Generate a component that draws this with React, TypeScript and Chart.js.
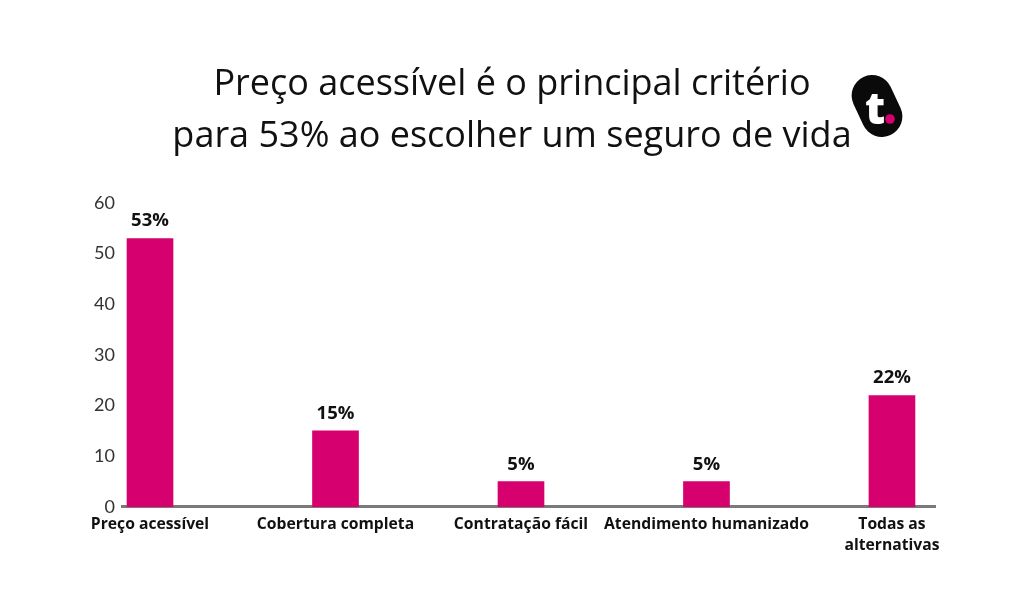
import React, { useEffect, useRef } from "react";
import { Chart, registerables } from "chart.js";

Chart.register(...registerables);

const titleLines = [
  "Preço acessível é o principal critério",
  "para 53% ao escolher um seguro de vida",
];
const categories: (string | string[])[] = [
  "Preço acessível",
  "Cobertura completa",
  "Contratação fácil",
  "Atendimento humanizado",
  ["Todas as", "alternativas"],
];
const values = [53, 15, 5, 5, 22];
const yTicks = [0, 10, 20, 30, 40, 50, 60];

const BAR_COLOR = "#d6006e";

const dataLabelPlugin = {
  id: "dataLabels",
  afterDatasetsDraw(chart: any) {
    const ctx = chart.ctx;
    const meta = chart.getDatasetMeta(0);
    ctx.save();
    ctx.font = "700 18.5px 'Open Sans'";
    ctx.fillStyle = "#111111";
    ctx.textAlign = "center";
    ctx.textBaseline = "alphabetic";
    meta.data.forEach((bar: any, i: number) => {
      ctx.fillText(values[i] + "%", bar.x, bar.y - 12);
    });
    ctx.restore();
  },
};

export default function App() {
  const canvasRef = useRef<HTMLCanvasElement | null>(null);

  useEffect(() => {
    let chart: Chart | null = null;
    let cancelled = false;
    const make = () => {
      if (cancelled || !canvasRef.current) return;
      chart = new Chart(canvasRef.current, {
        type: "bar",
        data: {
          datasets: [
            {
              data: values.map((v, i) => ({ x: i, y: v })),
              backgroundColor: BAR_COLOR,
              barThickness: 46,
              borderWidth: 0,
            },
          ],
        },
        options: {
          responsive: false,
          animation: false,
          layout: { padding: { left: 0, right: 89, top: 203, bottom: 51 } },
          plugins: {
            legend: { display: false },
            tooltip: { enabled: false },
            title: { display: false },
          },
          scales: {
            x: {
              type: "linear",
              offset: false,
              min: -0.151,
              max: 4.232,
              grid: { display: true, offset: false, color: "rgba(0,0,0,0)", drawTicks: false },
              border: { display: true, color: "#7a7a7a", width: 3 },
              afterBuildTicks: (scale: any) => {
                scale.ticks = categories.map((_, i) => ({ value: i }));
              },
              ticks: {
                autoSkip: false,
                maxRotation: 0,
                minRotation: 0,
                padding: 7,
                color: "#111111",
                font: { family: "'Open Sans'", size: 15.7, weight: "700", lineHeight: 1.34 },
                callback: (v: any) => categories[v as number] ?? "",
              },
            },
            y: {
              min: 0,
              max: 60,
              grid: { display: false, drawTicks: false },
              border: { display: false },
              afterBuildTicks: (scale: any) => {
                scale.ticks = yTicks.map((v) => ({ value: v }));
              },
              afterFit: (scale: any) => {
                scale.width = 122;
              },
              ticks: {
                padding: 7,
                color: "#333333",
                font: { family: "Lato", size: 18, weight: "400" },
              },
            },
          },
        },
        plugins: [dataLabelPlugin],
      } as any);
    };
    const fonts = [
      "400 36px 'Open Sans'",
      "700 18px 'Open Sans'",
      "700 15px 'Open Sans'",
      "400 18px Lato",
    ];
    Promise.all(fonts.map((f) => (document as any).fonts.load(f)))
      .catch(() => null)
      .then(make);
    return () => {
      cancelled = true;
      if (chart) chart.destroy();
    };
  }, []);

  return (
    <div
      style={{
        position: "absolute",
        left: 0,
        top: 0,
        width: 1024,
        height: 614,
        background: "#ffffff",
        overflow: "hidden",
      }}
    >
      <canvas ref={canvasRef} width={1024} height={614} style={{ display: "block" }} />
      <div
        style={{
          position: "absolute",
          left: 0,
          top: 56,
          width: 1024,
          textAlign: "center",
          fontFamily: "'Open Sans'",
          fontSize: 36,
          fontWeight: 400,
          lineHeight: "52px",
          color: "#111111",
          whiteSpace: "nowrap",
        }}
      >
        {titleLines.map((t, i) => (
          <div key={i}>{t}</div>
        ))}
      </div>
      <svg
        width={70}
        height={70}
        viewBox="0 0 70 70"
        style={{ position: "absolute", left: 842, top: 71 }}
      >
        <rect
          x={3}
          y={14.5}
          width={64}
          height={41}
          rx={20.5}
          ry={20.5}
          fill="#0a0a0a"
          transform="rotate(65 35 35)"
        />
        <text
          x={33}
          y={53}
          fill="#ffffff"
          fontFamily="'Open Sans'"
          fontWeight={800}
          fontSize={44}
          textAnchor="middle"
        >
          t
        </text>
        <circle cx={48} cy={48} r={4.8} fill={BAR_COLOR} />
      </svg>
    </div>
  );
}
